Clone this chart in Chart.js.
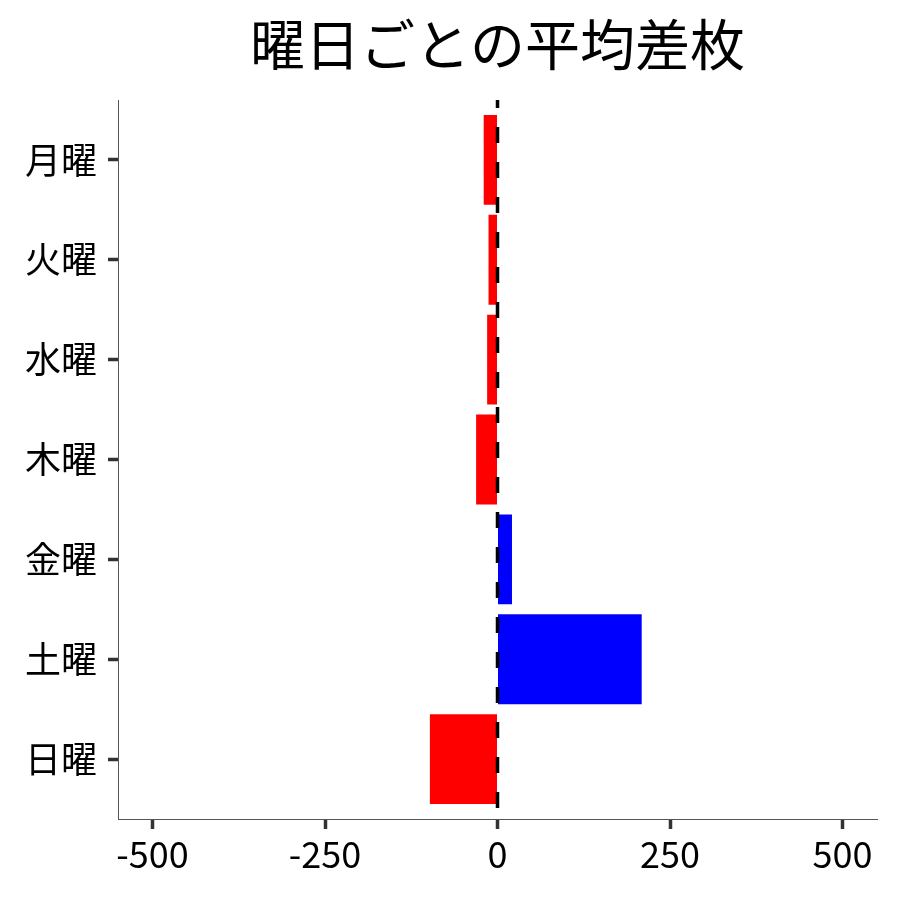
<!DOCTYPE html>
<html>
<head>
<meta charset="utf-8">
<script src="https://cdn.jsdelivr.net/npm/chart.js@4/dist/chart.umd.min.js"></script>
<style>
  html, body { margin: 0; padding: 0; background: #fff; }
  #wrap { width: 900px; height: 900px; }
</style>
</head>
<body>
<div id="wrap"><canvas id="c" width="900" height="900"></canvas></div>
<script>
const titleText = '曜日ごとの平均差枚';
const categories = ['月曜', '火曜', '水曜', '木曜', '金曜', '土曜', '日曜'];
const values = [-20, -13, -15, -31, 21, 209, -98];
const xTicks = [-500, -250, 0, 250, 500];
const posColor = '#0000ff';
const negColor = '#ff0000';

const FONT = '"Noto Sans CJK JP", "Noto Sans", sans-serif';
Chart.defaults.color = '#000';
Chart.defaults.font.family = FONT;

const zeroLine = {
  id: 'zeroLine',
  afterLayout(chart) {
    if (chart.titleBlock) {
      chart.titleBlock.left = chart.chartArea.left;
      chart.titleBlock.right = chart.chartArea.right;
    }
  },
  afterDatasetsDraw(chart) {
    const { ctx, chartArea, scales } = chart;
    const x = scales.x.getPixelForValue(0);
    ctx.save();
    ctx.strokeStyle = '#000';
    ctx.lineWidth = 3.5;
    ctx.setLineDash([16, 19]);
    ctx.lineDashOffset = 8;
    ctx.beginPath();
    ctx.moveTo(x, chartArea.top);
    ctx.lineTo(x, chartArea.bottom);
    ctx.stroke();
    ctx.restore();
  }
};

new Chart(document.getElementById('c'), {
  type: 'bar',
  data: {
    datasets: [{
      data: values.map((v, i) => ({ x: v, y: i })),
      backgroundColor: values.map(v => v >= 0 ? posColor : negColor),
      borderWidth: 0,
      categoryPercentage: 1,
      barPercentage: 0.9
    }]
  },
  options: {
    indexAxis: 'y',
    responsive: false,
    animation: false,
    devicePixelRatio: 1,
    layout: { padding: { top: 0, right: 23, bottom: 0, left: 0 } },
    plugins: {
      legend: { display: false },
      tooltip: { enabled: false },
      title: {
        display: true,
        text: titleText,
        color: '#000',
        font: { family: FONT, size: 55, weight: 'normal' },
        padding: { top: 11, bottom: 23 }
      }
    },
    scales: {
      x: {
        type: 'linear',
        min: -550,
        max: 550,
        offset: false,
        afterBuildTicks(scale) { scale.ticks = xTicks.map(v => ({ value: v })); },
        afterFit(scale) { scale.height = 81; },
        ticks: {
          font: { family: FONT, size: 36 },
          color: '#000',
          padding: 4,
          maxRotation: 0,
          autoSkip: false
        },
        grid: { offset: false, drawOnChartArea: false, drawTicks: true, tickLength: 10, tickWidth: 3.5, tickColor: '#333' },
        border: { display: true, color: '#555', width: 1 }
      },
      y: {
        type: 'linear',
        reverse: true,
        min: -0.6,
        max: 6.6,
        offset: false,
        afterBuildTicks(scale) { scale.ticks = categories.map((_, i) => ({ value: i })); },
        afterFit(scale) { scale.width = 118; },
        ticks: {
          font: { family: FONT, size: 36 },
          color: '#000',
          padding: 11,
          autoSkip: false,
          callback: (v) => categories[v] !== undefined ? categories[v] : ''
        },
        grid: { offset: false, drawOnChartArea: false, drawTicks: true, tickLength: 10, tickWidth: 3.5, tickColor: '#333' },
        border: { display: true, color: '#555', width: 1 }
      }
    }
  },
  plugins: [zeroLine]
});
</script>
</body>
</html>
